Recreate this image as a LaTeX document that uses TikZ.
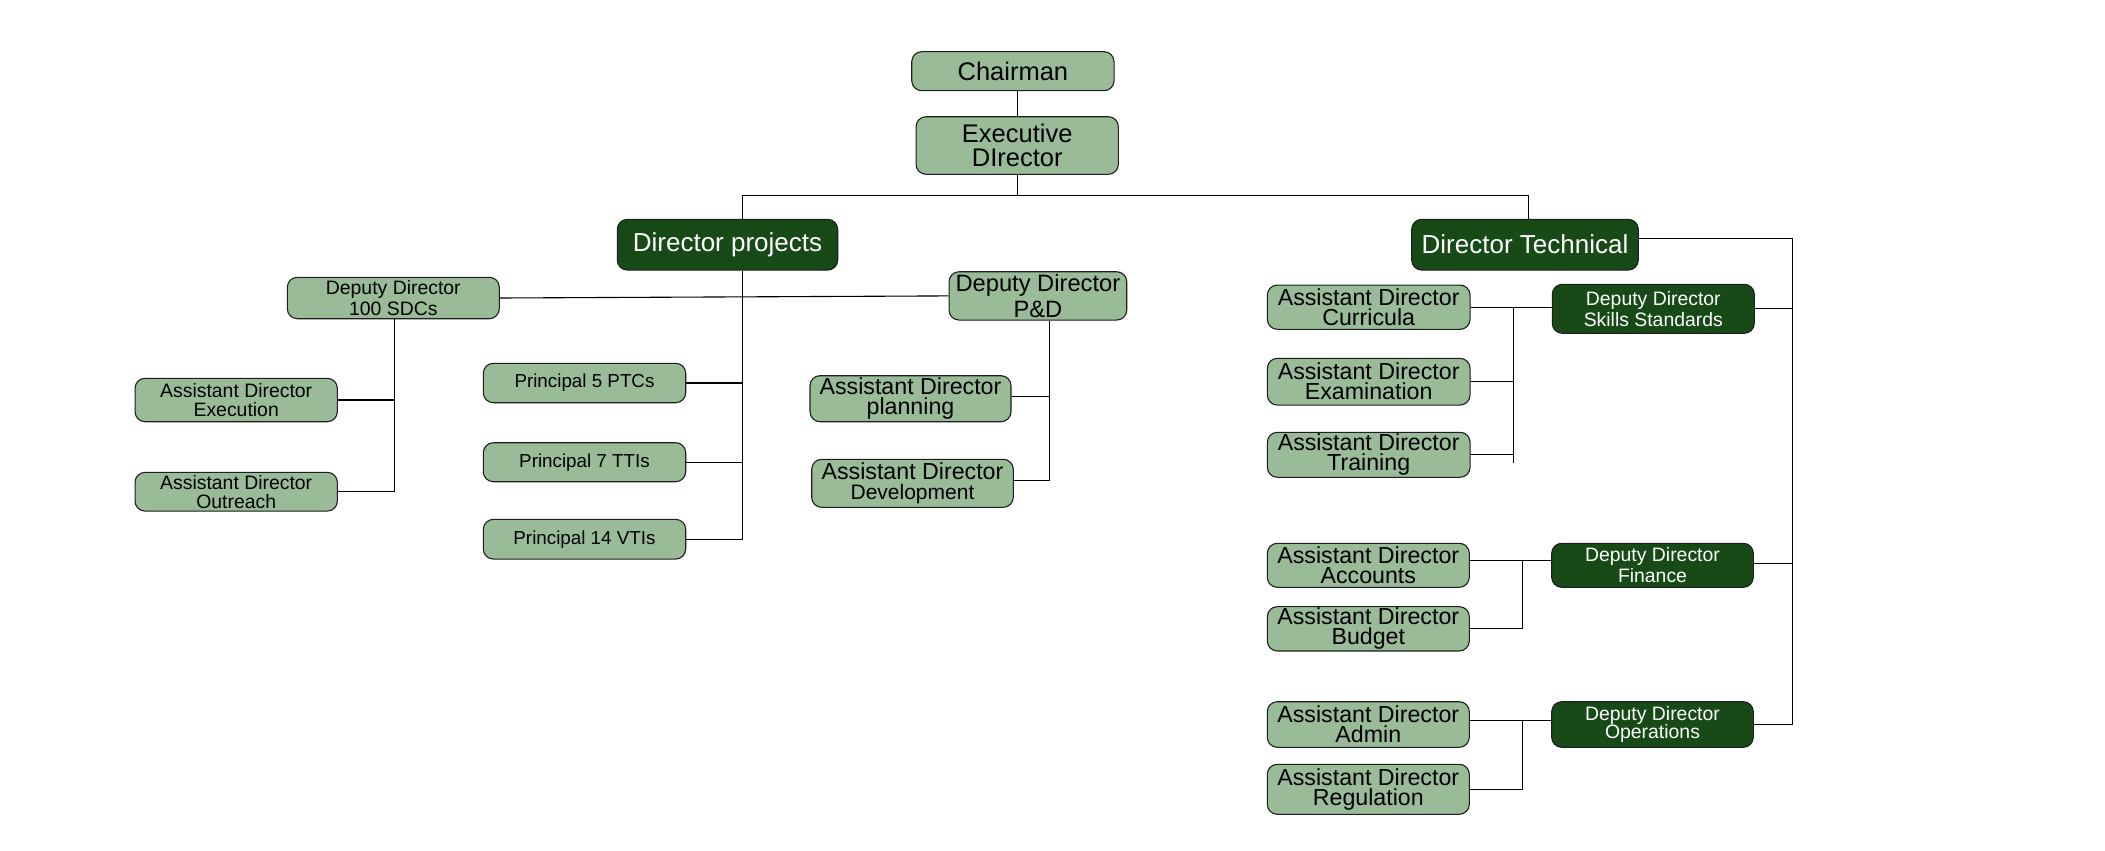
\documentclass[tikz,border=0pt]{standalone}
\usepackage{fontspec}
\setmainfont{Liberation Sans}
\definecolor{lightg}{RGB}{153,187,152}
\definecolor{darkg}{RGB}{24,74,24}
\definecolor{edge}{RGB}{30,30,30}
\begin{document}
\begin{tikzpicture}[x=1pt,y=-1pt,
  box/.style={draw=edge,line width=1.1pt,rounded corners=10pt,inner sep=0pt,align=center,text=black},
  lt/.style={box,fill=lightg},
  dk/.style={box,fill=darkg,text=white},
  fbig/.style={font=\fontsize{25.5}{23.3}\selectfont},
  fdir/.style={font=\fontsize{26}{26}\selectfont},
  fdd/.style={font=\fontsize{19.4}{20.7}\selectfont},
  fad/.style={font=\fontsize{23.2}{20}\selectfont},
  fads/.style={font=\fontsize{19.4}{19}\selectfont},
  fpr/.style={font=\fontsize{18.8}{20}\selectfont},
  fpd/.style={font=\fontsize{23.7}{25.7}\selectfont},
  conn/.style={draw=black,line width=1.1pt}]
\useasboundingbox (0,0) rectangle (2105,851);
\fill[white] (0,0) rectangle (2105,851);

% top
\node[lt,fbig,minimum width=202.3pt,minimum height=39pt] (chair) at (1012.9,71.2) {Chairman};
\node[lt,fbig,minimum width=202.3pt,minimum height=57.6pt] (exec) at (1017.2,145.5) {Executive\\DIrector};
\node[dk,fdir,minimum width=220.4pt,minimum height=50.7pt] (dp) at (727.5,244.7) {Director projects};
\node[dk,fdir,minimum width=226.6pt,minimum height=50.7pt] (dt) at (1525,244.7) {Director Technical};

% projects branch
\node[lt,fdd,minimum width=212pt,minimum height=41.4pt] (sdc) at (393.3,298) {Deputy Director\\100 SDCs};
\node[lt,fpd,minimum width=177.7pt,minimum height=48.3pt] (pd) at (1037.9,295.9) {Deputy Director\\P\&D};
\node[lt,fads,minimum width=202.3pt,minimum height=43.4pt] (exe) at (236.2,400) {Assistant Director\\Execution};
\node[lt,fads,minimum width=202.3pt,minimum height=38.7pt] (out) at (236.2,491.7) {Assistant Director\\Outreach};
\node[lt,fpr,minimum width=202.4pt,minimum height=39.4pt] (p5) at (584.5,383) {Principal 5 PTCs};
\node[lt,fpr,minimum width=202.4pt,minimum height=39pt] (p7) at (584.5,462.2) {Principal 7 TTIs};
\node[lt,fpr,minimum width=202.4pt,minimum height=39.7pt] (p14) at (584.5,539.2) {Principal 14 VTIs};
\node[lt,fad,minimum width=201pt,minimum height=46pt] (plan) at (910.5,398.7) {Assistant Director\\planning};
\node[lt,fad,minimum width=201.6pt,minimum height=48pt] (dev) at (912.5,483.3) {Assistant Director\\{\fontsize{21}{20}\selectfont Development}};

% technical branch
\node[lt,fad,minimum width=202.7pt,minimum height=44.3pt] (cur) at (1368.7,307.2) {Assistant Director\\Curricula};
\node[lt,fad,minimum width=202.7pt,minimum height=46.7pt] (exam) at (1368.7,381.7) {Assistant Director\\Examination};
\node[lt,fad,minimum width=202.7pt,minimum height=45pt] (trn) at (1368.7,454.8) {Assistant Director\\Training};
\node[dk,fdd,minimum width=202pt,minimum height=49pt] (skl) at (1653.3,308.8) {Deputy Director\\Skills Standards};
\node[lt,fad,minimum width=202pt,minimum height=44pt] (acc) at (1368.3,565.3) {Assistant Director\\Accounts};
\node[lt,fad,minimum width=202pt,minimum height=44.3pt] (bud) at (1368.3,628.8) {Assistant Director\\Budget};
\node[lt,fad,minimum width=202pt,minimum height=45.6pt] (adm) at (1368.3,724.5) {Assistant Director\\Admin};
\node[lt,fad,minimum width=202pt,minimum height=50pt] (reg) at (1368.3,789.3) {Assistant Director\\Regulation};
\node[dk,fdd,minimum width=201.6pt,minimum height=44pt] (fin) at (1652.5,565.3) {Deputy Director\\Finance};
\node[dk,font=\fontsize{19.4}{18.3}\selectfont,minimum width=201.6pt,minimum height=45.6pt] (ops) at (1652.5,724.5) {Deputy Director\\Operations};

% connectors: top
\draw[conn] (exec.north |- chair.south) -- (exec.north);
\coordinate (bus1) at ([yshift=-21pt]exec.south);
\draw[conn] (exec.south) -- (bus1);
\draw[conn] ([xshift=14.8pt]dp.north) |- (bus1) -| ([xshift=3.3pt]dt.north);

% projects
\coordinate (dpb) at ([xshift=14.8pt]dp.south);
\draw[conn] (dpb) |- (p14.east);
\draw[conn] (p5.east) -- (p5.east -| dpb);
\draw[conn] (p7.east) -- (p7.east -| dpb);
\draw[conn] (sdc.east) -- (pd.west);
\coordinate (sdb) at ([xshift=1pt]sdc.south);
\draw[conn] (sdb) |- (out.east);
\draw[conn] (exe.east) -- (exe.east -| sdb);
\coordinate (pdb) at ([xshift=12pt]pd.south);
\draw[conn] (pdb) |- ([yshift=3pt]dev.east);
\draw[conn] ([yshift=2pt]plan.east) -- ([yshift=2pt]plan.east -| pdb);

% technical
\draw[conn] ([yshift=6pt]dt.east) -- ++(153.7,0) coordinate (rb) -- (rb |- ops.east) -- (ops.east);
\draw[conn] (skl.east) -- (skl.east -| rb);
\draw[conn] ([yshift=2pt]fin.east) -- ([yshift=2pt]fin.east -| rb);

\coordinate (sb) at ([xshift=43.3pt]cur.east);
\draw[conn] (cur.east) -- (cur.east -| skl.west);
\draw[conn] (sb) -- ([yshift=-8pt]sb |- trn.east);
\draw[conn] (exam.east) -- (exam.east -| sb);
\draw[conn] (trn.east) -- (trn.east -| sb);

\coordinate (fb) at ([xshift=52.4pt,yshift=4.6pt]acc.east);
\draw[conn] ([yshift=4.6pt]acc.east) -- ([yshift=4.6pt]fin.west);
\draw[conn] (fb) |- (bud.east);

\coordinate (ob) at ([xshift=52.4pt,yshift=3.8pt]adm.east);
\draw[conn] ([yshift=3.8pt]adm.east) -- ([yshift=3.8pt]ops.west);
\draw[conn] (ob) |- (reg.east);
\end{tikzpicture}
\end{document}
